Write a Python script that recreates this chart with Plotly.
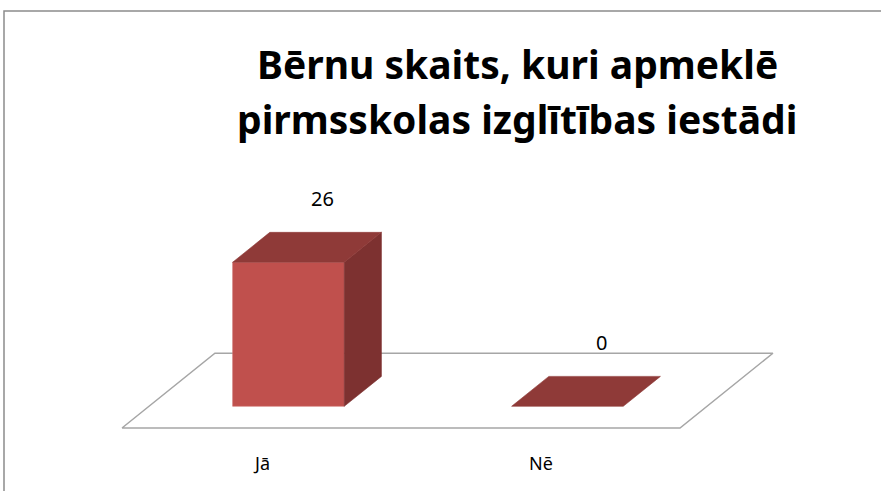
import plotly.graph_objects as go

# ---- data ----
categories = ["Jā", "Nē"]
values = [26, 0]
title_lines = ["Bērnu skaits, kuri apmeklē", "pirmsskolas izglītības iestādi"]

# ---- 3D look parameters (oblique projection) ----
DX = 0.333      # horizontal shift of full floor depth, in category units
DY = 13.5       # vertical shift of full floor depth, in value units
BAR_W = 0.40    # bar width in category units
D0, D1 = 0.29, 0.69   # bar depth span (fraction of floor depth)

FRONT = "#C0504D"
TOP = "#8F3A38"
SIDE = "#7D3130"
FLOOR_LINE = "#A6A6A6"


def proj(x, v, d):
    return x + d * DX, v + d * DY


fig = go.Figure()

n = len(categories)
# floor
fl = [proj(0, 0, 0), proj(n, 0, 0), proj(n, 0, 1), proj(0, 0, 1), proj(0, 0, 0)]
fig.add_trace(go.Scatter(x=[p[0] for p in fl], y=[p[1] for p in fl], mode="lines",
                         fill="toself", fillcolor="white",
                         line=dict(color=FLOOR_LINE, width=1.5), hoverinfo="skip"))


def poly(pts, color, line_color=None):
    pts = pts + [pts[0]]
    fig.add_trace(go.Scatter(x=[p[0] for p in pts], y=[p[1] for p in pts], mode="lines",
                             fill="toself", fillcolor=color,
                             line=dict(color=line_color or color, width=0.6),
                             hoverinfo="skip"))


for i, (cat, val) in enumerate(zip(categories, values)):
    xl = i + 0.5 - BAR_W / 2
    xr = i + 0.5 + BAR_W / 2
    if val > 0:
        # front face
        poly([proj(xl, 0, D0), proj(xr, 0, D0), proj(xr, val, D0), proj(xl, val, D0)], FRONT, "#D07472")
        # side face
        poly([proj(xr, 0, D0), proj(xr, 0, D1), proj(xr, val, D1), proj(xr, val, D0)], SIDE)
    # top face
    poly([proj(xl, val, D0), proj(xr, val, D0), proj(xr, val, D1), proj(xl, val, D1)], TOP)

    # value label above the bar
    lx, ly = proj(i + 0.5, val, (D0 + D1) / 2)
    fig.add_annotation(x=lx + 0.055, y=ly + 8.8, text=str(val), showarrow=False,
                       font=dict(size=20, color="black", family="Noto Sans"))
    # category label
    fig.add_annotation(x=i + 0.5, y=-6.3, text=cat, showarrow=False,
                       font=dict(size=18, color="black", family="Noto Sans"))

# title, one annotation per line
for k, line in enumerate(title_lines):
    fig.add_annotation(xref="paper", yref="paper", x=517 / 881, y=1 - (64 + 55 * k) / 491,
                       xanchor="center", yanchor="middle", text=line, showarrow=False,
                       font=dict(family="Noto Sans", size=39, color="black", weight="bold"))

# outer chart border
fig.add_shape(type="rect", xref="paper", yref="paper", x0=4 / 881, x1=1.05,
              y0=-0.05, y1=1 - 11 / 491, line=dict(color="#8C8C8C", width=1.5),
              fillcolor="rgba(0,0,0,0)", layer="above")

fig.update_layout(
    width=881, height=491,
    margin=dict(l=0, r=0, t=0, b=0),
    paper_bgcolor="white", plot_bgcolor="white",
    showlegend=False,
    xaxis=dict(visible=False, range=[-122 / 279, (881 - 122) / 279], fixedrange=True),
    yaxis=dict(visible=False, range=[-63 / 5.54, 428 / 5.54], fixedrange=True),
)

fig.write_html("out.html", config={"displayModeBar": False},
               post_script="document.body.style.margin='0';")
